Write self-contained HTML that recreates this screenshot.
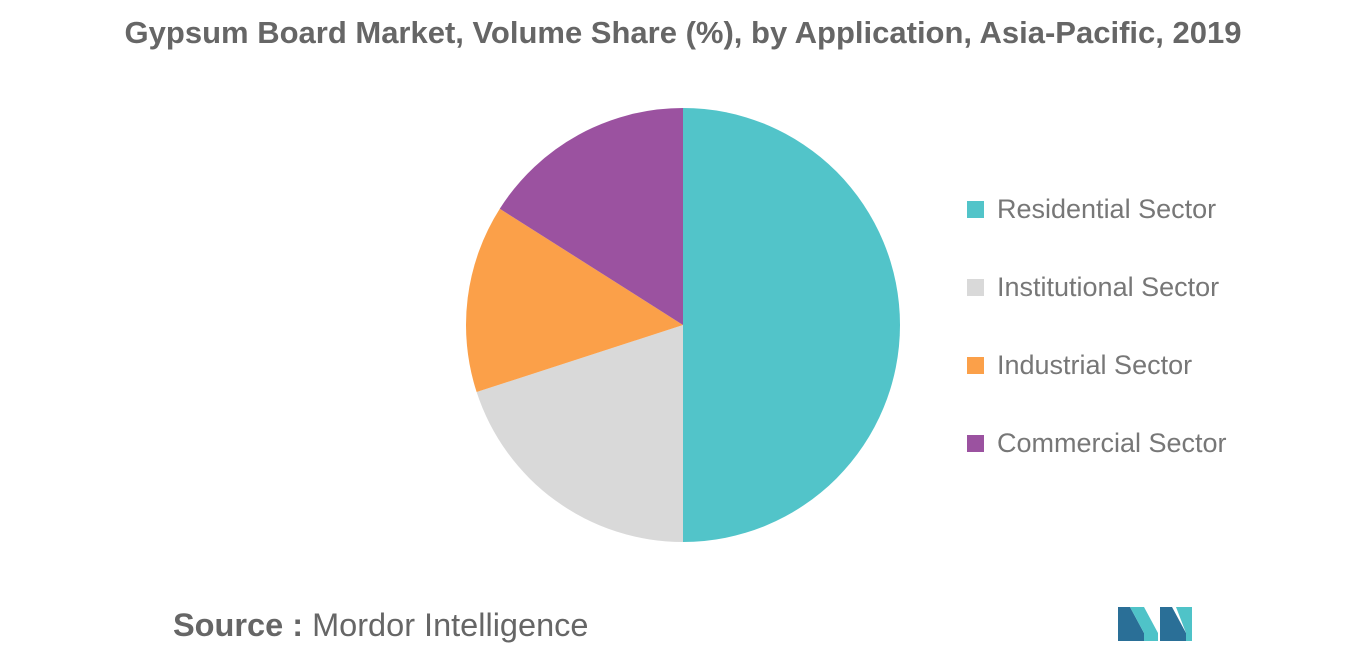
<!DOCTYPE html>
<html><head><meta charset="utf-8">
<style>
body{margin:0;width:1366px;height:655px;background:#fff;font-family:"Liberation Sans",sans-serif;overflow:hidden;position:relative}
.title{position:absolute;top:15px;left:0;width:1366px;text-align:center;font-size:31px;font-weight:bold;color:#666}
.legend{position:absolute;left:967px;top:170px}
.item{display:flex;align-items:center;height:78px;font-size:27px;color:#777;margin:0}
.sw{width:17px;height:17px;margin-right:13px}
.src{position:absolute;left:173px;top:607px;font-size:32.5px;color:#666}
</style></head><body>
<div class="title">Gypsum Board Market, Volume Share (%), by Application, Asia-Pacific, 2019</div>
<svg id="pie" width="1366" height="655" style="position:absolute;left:0;top:0"></svg>
<div class="legend" id="legend"></div>
<div class="src"><b>Source :</b> Mordor Intelligence</div>
<svg width="80" height="40" style="position:absolute;left:1116px;top:603px">
<polygon points="2,38 2,4 14,4 28,30 28,38" fill="#2a6f97"/>
<polygon points="14,4 28,4 42,30 42,38 28,38 28,30" fill="#4fc3c8"/>
<polygon points="44,38 44,4 56,4 70,30 70,38" fill="#2a6f97"/>
<polygon points="60,4 76,4 76,38 70,38 70,30" fill="#4fc3c8"/>
</svg>
<script>
const categories=["Residential Sector","Institutional Sector","Industrial Sector","Commercial Sector"];
const values=[50,20,14,16];
const colors=["#52c4c9","#d9d9d9","#fba049","#9b52a0"];
const cx=683,cy=325,r=217;
const svg=document.getElementById('pie');
const total=values.reduce((a,b)=>a+b,0);
let a0=0;
values.forEach((v,i)=>{
  const a1=a0+v/total*2*Math.PI;
  const x0=cx+r*Math.sin(a0),y0=cy-r*Math.cos(a0),x1=cx+r*Math.sin(a1),y1=cy-r*Math.cos(a1);
  const p=document.createElementNS('http://www.w3.org/2000/svg','path');
  p.setAttribute('d',`M${cx},${cy}L${x0},${y0}A${r},${r} 0 ${a1-a0>Math.PI?1:0} 1 ${x1},${y1}Z`);
  p.setAttribute('fill',colors[i]);
  
  
  svg.appendChild(p);
  a0=a1;
});
const lg=document.getElementById('legend');
categories.forEach((c,i)=>{
  const d=document.createElement('div');d.className='item';
  
  
  d.innerHTML=`<span class="sw" style="background:${colors[i]}"></span>${c}`;
  lg.appendChild(d);
});
</script>
</body></html>
